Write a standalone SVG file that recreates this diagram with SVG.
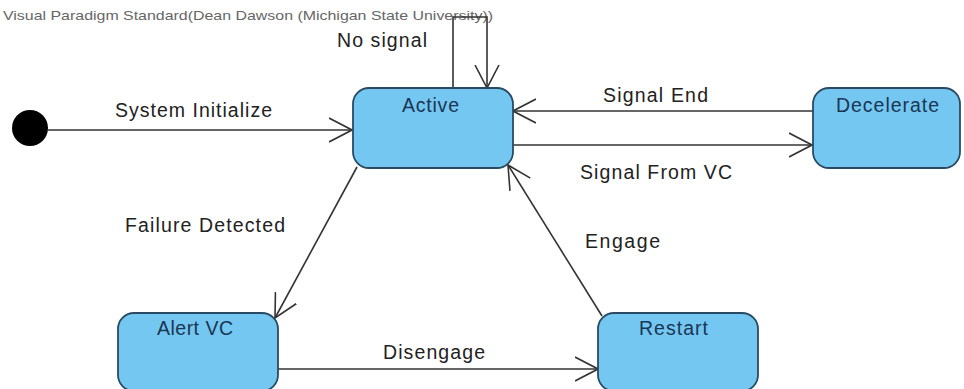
<svg xmlns="http://www.w3.org/2000/svg" width="964" height="389" viewBox="0 0 964 389">
<defs>
<style>
.node rect{fill:#74c7f0;stroke:#2a4a63;stroke-width:1.8}
.node text{font-family:"Liberation Sans",Arial,sans-serif;font-size:19.5px;fill:#1b3554}
.lbl{font-family:"Liberation Sans",Arial,sans-serif;font-size:19.5px;fill:#222}
.hdr{font-family:"Liberation Sans",Arial,sans-serif;font-size:13px;fill:#666}
#connectors path,#connectors line,#connectors polyline{fill:none;stroke:#333;stroke-width:1.6}
</style>
<marker id="arr" markerUnits="userSpaceOnUse" viewBox="0 0 24 26" refX="23" refY="13" markerWidth="24" markerHeight="26" orient="auto">
<path d="M0,1 L23,13 L0,25" fill="none" stroke="#333" stroke-width="1.6"/>
</marker>
</defs>
<rect width="964" height="389" fill="#fff"/>
<text class="hdr" x="3" y="20" textLength="490" lengthAdjust="spacingAndGlyphs">Visual Paradigm Standard(Dean Dawson (Michigan State University))</text>

<g id="connectors">
<line x1="48" y1="130" x2="352" y2="130" marker-end="url(#arr)"/>
<polyline points="453,88 453,17 487,17 487,88" marker-end="url(#arr)"/>
<line x1="813" y1="111" x2="513" y2="111" marker-end="url(#arr)"/>
<line x1="513" y1="145" x2="812" y2="145" marker-end="url(#arr)"/>
<line x1="357" y1="167" x2="275" y2="318" marker-end="url(#arr)"/>
<line x1="602" y1="316" x2="508" y2="165" marker-end="url(#arr)"/>
<line x1="278" y1="369" x2="598" y2="369" marker-end="url(#arr)"/>
<text class="lbl" x="115" y="117" textLength="157" lengthAdjust="spacing">System Initialize</text>
<text class="lbl" x="337" y="47" textLength="90" lengthAdjust="spacing">No signal</text>
<text class="lbl" x="603" y="102" textLength="105" lengthAdjust="spacing">Signal End</text>
<text class="lbl" x="580" y="179" textLength="152" lengthAdjust="spacing">Signal From VC</text>
<text class="lbl" x="125" y="232" textLength="160" lengthAdjust="spacing">Failure Detected</text>
<text class="lbl" x="585" y="248" textLength="75" lengthAdjust="spacing">Engage</text>
<text class="lbl" x="383" y="359" textLength="102" lengthAdjust="spacing">Disengage</text>
</g>

<g id="initial">
<circle cx="30" cy="128" r="18" fill="#000"/>
</g>
<g id="active" class="node">
<rect x="353" y="88" width="160" height="80" rx="16"/>
<text x="402" y="112" textLength="57" lengthAdjust="spacing">Active</text>
</g>
<g id="decelerate" class="node">
<rect x="813" y="88" width="147" height="80" rx="16"/>
<text x="836" y="112" textLength="103" lengthAdjust="spacing">Decelerate</text>
</g>
<g id="alertvc" class="node">
<rect x="118" y="313" width="160" height="78" rx="16"/>
<text x="157" y="335" textLength="76" lengthAdjust="spacing">Alert VC</text>
</g>
<g id="restart" class="node">
<rect x="598" y="313" width="160" height="78" rx="16"/>
<text x="639" y="335" textLength="69" lengthAdjust="spacing">Restart</text>
</g>
</svg>
